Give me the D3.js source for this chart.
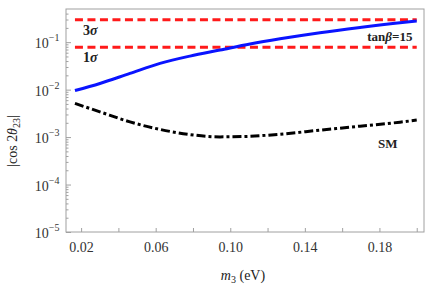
<!DOCTYPE html>
<html>
<head>
<meta charset="utf-8">
<script src="https://cdn.jsdelivr.net/npm/d3@7"></script>
<style>
  body { margin: 0; background: #fff; }
  svg text { font-family: "Liberation Serif", "DejaVu Serif", serif; }
</style>
</head>
<body>
<div id="chart"></div>
<script>
// values
var m3 = [0.0167, 0.0301, 0.0462, 0.0623, 0.0784, 0.0945, 0.1106, 0.1267, 0.1481, 0.1696, 0.191, 0.2]
var tanBeta15 = [0.00957, 0.0135, 0.022, 0.0357, 0.0509, 0.0681, 0.0912, 0.1175, 0.158, 0.204, 0.257, 0.279]
var smCurve = [0.00512, 0.0034, 0.00209, 0.00145, 0.00113, 0.00101, 0.00104, 0.00115, 0.0014, 0.0017, 0.00206, 0.00228]
var sigmaBands = [{name: "3", value: 0.295}, {name: "1", value: 0.078}]
var xTicks = [0.02, 0.04, 0.06, 0.08, 0.10, 0.12, 0.14, 0.16, 0.18, 0.20]
var xTickLabels = ["0.02", "", "0.06", "", "0.10", "", "0.14", "", "0.18", ""]
var yMajor = [1e-5, 1e-4, 1e-3, 1e-2, 1e-1]
var yExponents = ["\u22125", "\u22124", "\u22123", "\u22122", "\u22121"]

var W = 425, H = 285
var margin = {top: 9, right: 1, bottom: 53, left: 66}
var width = W - margin.left - margin.right
var height = H - margin.top - margin.bottom

var svg = d3.select("#chart").append("svg")
	.attr("width", W)
	.attr("height", H)

var g = svg.append("g")
	.attr("transform", `translate(${margin.left},${margin.top})`)

var x = d3.scaleLinear()
	.domain([0.0119, 0.2039])
	.range([0, width])

var y = d3.scaleLog()
	.domain([1e-5, 0.5])
	.range([height, 0])

// minor log ticks
var yMinor = []
yMajor.forEach(function(p) {
	for (var k = 2; k <= 9; k++) {
		if (p * k < 0.5) yMinor.push(p * k)
	}
})

g.append("defs").append("clipPath").attr("id", "clip")
	.append("rect").attr("width", width).attr("height", height)

// frame
g.append("rect")
	.attr("width", width)
	.attr("height", height)
	.attr("fill", "none")
	.attr("stroke", "#a0a0a0")
	.attr("stroke-width", 1)

var xAxis = g.append("g")
	.attr("transform", `translate(0,${height})`)
	.call(d3.axisBottom(x)
		.tickValues(xTicks)
		.tickSizeInner(-4)
		.tickSizeOuter(0)
		.tickPadding(10)
		.tickFormat((d, i) => xTickLabels[i]))
xAxis.select(".domain").remove()
xAxis.selectAll("line").attr("stroke", "#a0a0a0")
xAxis.selectAll("text")
	.attr("font-family", "Liberation Serif")
	.attr("font-size", 14)
	.attr("fill", "#333")

var yAxisMinor = g.append("g")
	.call(d3.axisLeft(y).tickValues(yMinor).tickSizeInner(-2.5).tickSizeOuter(0).tickFormat(""))
yAxisMinor.select(".domain").remove()
yAxisMinor.selectAll("line").attr("stroke", "#a0a0a0")

var yAxisMajor = g.append("g")
	.call(d3.axisLeft(y).tickValues(yMajor).tickSizeInner(-5).tickSizeOuter(0).tickFormat(""))
yAxisMajor.select(".domain").remove()
yAxisMajor.selectAll("line").attr("stroke", "#a0a0a0")

// y tick labels 10^n
var yLab = g.append("g")
yMajor.forEach(function(v, i) {
	var t = yLab.append("text")
		.attr("x", -6.5)
		.attr("y", y(v) + 6)
		.attr("text-anchor", "end")
		.attr("fill", "#333")
		.attr("font-size", 14)
	t.append("tspan").text("10")
	t.append("tspan")
		.attr("dy", -7)
		.attr("font-size", 10)
		.text(yExponents[i])
})

// sigma lines
var plot = g.append("g").attr("clip-path", "url(#clip)")

plot.selectAll(".sigma")
	.data(sigmaBands)
	.join("line")
	.attr("class", "sigma")
	.attr("x1", x(m3[0]))
	.attr("x2", x(m3[m3.length - 1]))
	.attr("y1", d => y(d.value))
	.attr("y2", d => y(d.value))
	.attr("stroke", "#ff1a1a")
	.attr("stroke-width", 3)
	.attr("stroke-dasharray", "8,4.5")

var line = d3.line()
	.curve(d3.curveMonotoneX)
	.x(d => x(d[0]))
	.y(d => y(d[1]))

plot.append("path")
	.datum(d3.zip(m3, smCurve))
	.attr("fill", "none")
	.attr("stroke", "#000")
	.attr("stroke-width", 3)
	.attr("stroke-dasharray", "9,3,3,3")
	.attr("d", line)

plot.append("path")
	.datum(d3.zip(m3, tanBeta15))
	.attr("fill", "none")
	.attr("stroke", "#0a14ff")
	.attr("stroke-width", 3)
	.attr("d", line)

// labels
sigmaBands.forEach(function(d) {
	var t = g.append("text")
		.attr("x", 17)
		.attr("y", y(d.value) + 15)
		.attr("font-size", 14)
		.attr("font-weight", "bold")
		.attr("fill", "#222")
	t.append("tspan").text(d.name)
	t.append("tspan").attr("font-style", "italic").text("\u03c3")
})

var tb = g.append("text")
	.attr("x", x(0.1977))
	.attr("y", y(0.106))
	.attr("text-anchor", "end")
	.attr("font-size", 13)
	.attr("font-weight", "bold")
	.attr("fill", "#222")
tb.append("tspan").text("tan")
tb.append("tspan").attr("font-style", "italic").text("\u03b2")
tb.append("tspan").text("=15")

g.append("text")
	.attr("x", x(0.1845))
	.attr("y", y(0.00058))
	.attr("text-anchor", "middle")
	.attr("font-size", 13)
	.attr("font-weight", "bold")
	.attr("fill", "#222")
	.text("SM")

// axis titles
var xt = svg.append("text")
	.attr("x", margin.left + width / 2 - 2)
	.attr("y", 280)
	.attr("text-anchor", "middle")
	.attr("font-size", 14)
	.attr("fill", "#222")
xt.append("tspan").attr("font-style", "italic").text("m")
xt.append("tspan").attr("font-size", 10).attr("dy", 3).text("3")
xt.append("tspan").attr("dy", -3).text(" (eV)")

var yt = svg.append("text")
	.attr("transform", "translate(17,141) rotate(-90)")
	.attr("text-anchor", "middle")
	.attr("font-size", 14)
	.attr("fill", "#222")
yt.append("tspan").text("|cos 2")
yt.append("tspan").attr("font-style", "italic").text("\u03b8")
yt.append("tspan").attr("font-size", 10).attr("dy", 3).text("23")
yt.append("tspan").attr("dy", -3).text("|")
</script>
</body>
</html>
